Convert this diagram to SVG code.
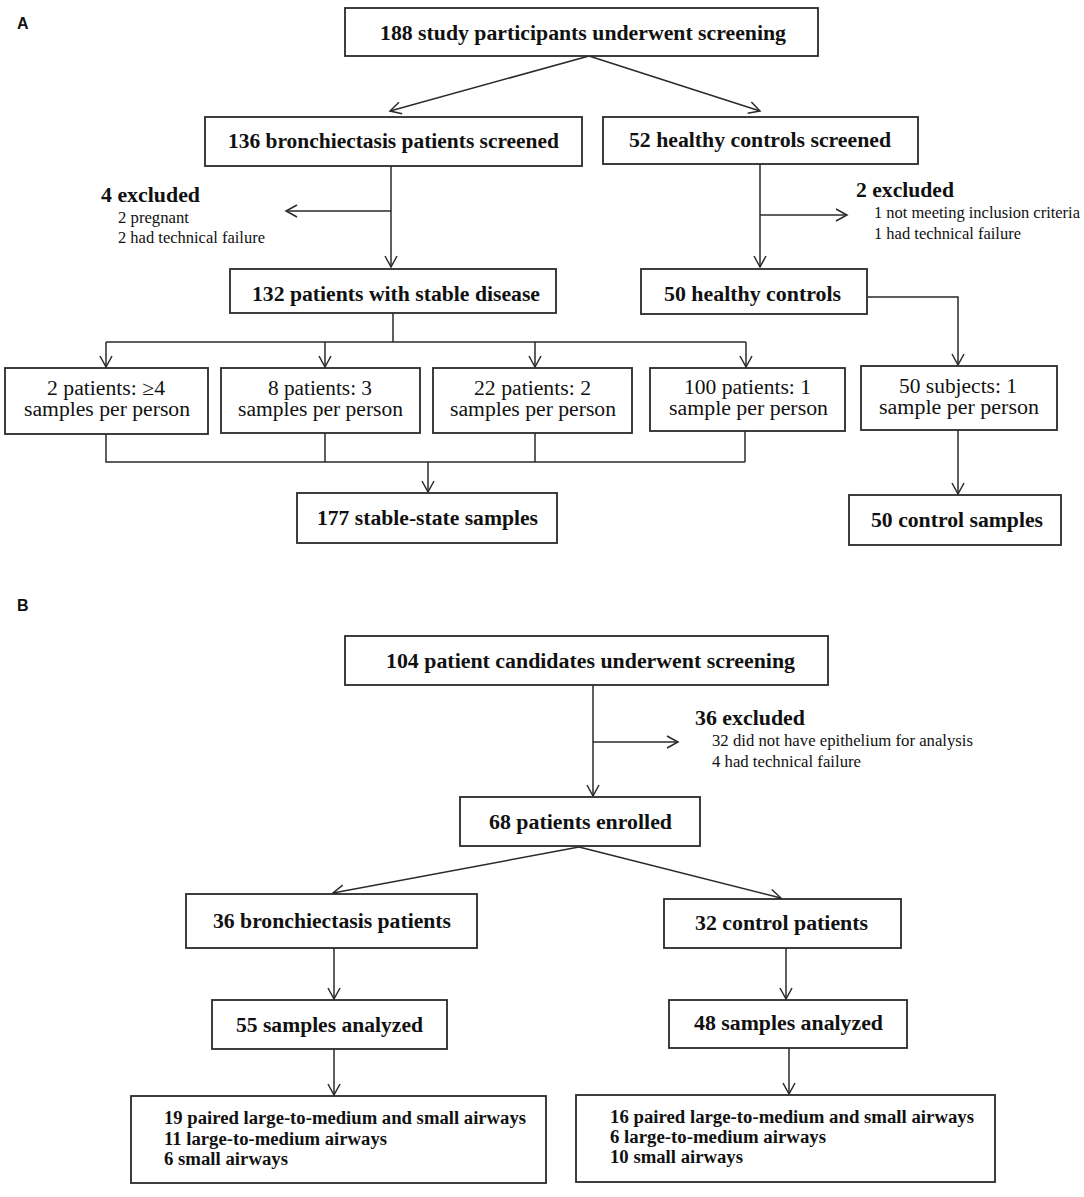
<svg xmlns="http://www.w3.org/2000/svg" width="1084" height="1197" viewBox="0 0 1084 1197">
<style>
.bx{fill:#fff;stroke:#2a2a2a;stroke-width:1.8}
.hd{font-family:"Liberation Serif","Times New Roman",serif;font-weight:bold;font-size:20px;fill:#111}
.rg{font-family:"Liberation Serif","Times New Roman",serif;font-size:20px;fill:#111}
.sm{font-family:"Liberation Serif","Times New Roman",serif;font-size:16.5px;fill:#111}
.it{font-family:"Liberation Serif","Times New Roman",serif;font-weight:bold;font-size:18px;fill:#111}
.lb{font-family:"Liberation Sans",Arial,sans-serif;font-weight:bold;font-size:16px;fill:#111}
.ln{fill:none;stroke:#2a2a2a;stroke-width:1.5}
</style>
<defs>
<marker id="ah" markerUnits="userSpaceOnUse" markerWidth="16" markerHeight="16" refX="12" refY="7" orient="auto">
<path d="M1,1 L12,7 L1,13" fill="none" stroke="#2a2a2a" stroke-width="1.5"/>
</marker>
</defs>
<rect width="1084" height="1197" fill="#fff"/>
<text class="lb" x="17" y="29">A</text>
<text class="lb" x="17" y="611">B</text>

<g id="connectors">
<line class="ln" x1="589" y1="56" x2="390" y2="111" marker-end="url(#ah)"/>
<line class="ln" x1="589" y1="56" x2="760" y2="111" marker-end="url(#ah)"/>
<line class="ln" x1="391" y1="166" x2="391" y2="267" marker-end="url(#ah)"/>
<line class="ln" x1="391" y1="211" x2="286" y2="211" marker-end="url(#ah)"/>
<line class="ln" x1="760" y1="164" x2="760" y2="267" marker-end="url(#ah)"/>
<line class="ln" x1="760" y1="215" x2="847" y2="215" marker-end="url(#ah)"/>
<polyline class="ln" points="393,313 393,342"/>
<line class="ln" x1="106" y1="342" x2="746" y2="342"/>
<line class="ln" x1="106" y1="342" x2="106" y2="367" marker-end="url(#ah)"/>
<line class="ln" x1="325" y1="342" x2="325" y2="367" marker-end="url(#ah)"/>
<line class="ln" x1="535" y1="342" x2="535" y2="367" marker-end="url(#ah)"/>
<line class="ln" x1="746" y1="342" x2="746" y2="367" marker-end="url(#ah)"/>
<polyline class="ln" points="106,434 106,462 745,462"/>
<line class="ln" x1="325" y1="433" x2="325" y2="462"/>
<line class="ln" x1="535" y1="433" x2="535" y2="462"/>
<line class="ln" x1="745" y1="431" x2="745" y2="462"/>
<line class="ln" x1="428" y1="462" x2="428" y2="492" marker-end="url(#ah)"/>
<polyline class="ln" points="868,297 958,297 958,365" marker-end="url(#ah)"/>
<line class="ln" x1="958" y1="430" x2="958" y2="494" marker-end="url(#ah)"/>

<line class="ln" x1="593" y1="685" x2="593" y2="796" marker-end="url(#ah)"/>
<line class="ln" x1="593" y1="742" x2="678" y2="742" marker-end="url(#ah)"/>
<line class="ln" x1="579" y1="847" x2="333" y2="893" marker-end="url(#ah)"/>
<line class="ln" x1="579" y1="847" x2="781" y2="898" marker-end="url(#ah)"/>
<line class="ln" x1="334" y1="948" x2="334" y2="999" marker-end="url(#ah)"/>
<line class="ln" x1="334" y1="1049" x2="334" y2="1095" marker-end="url(#ah)"/>
<line class="ln" x1="786" y1="948" x2="786" y2="999" marker-end="url(#ah)"/>
<line class="ln" x1="789" y1="1048" x2="789" y2="1094" marker-end="url(#ah)"/>
</g>

<g id="n188"><rect class="bx" x="345" y="8" width="473" height="48"/>
<text class="hd" x="380" y="40" textLength="406" lengthAdjust="spacingAndGlyphs">188 study participants underwent screening</text></g>
<g id="n136"><rect class="bx" x="205" y="117" width="377" height="49"/>
<text class="hd" x="228" y="148" textLength="331" lengthAdjust="spacingAndGlyphs">136 bronchiectasis patients screened</text></g>
<g id="n52"><rect class="bx" x="603" y="117" width="315" height="47"/>
<text class="hd" x="629" y="147" textLength="262" lengthAdjust="spacingAndGlyphs">52 healthy controls screened</text></g>
<g id="ex4">
<text class="hd" x="101" y="202" style="font-size:21px" textLength="99" lengthAdjust="spacingAndGlyphs">4 excluded</text>
<text class="sm" x="118" y="223" textLength="71" lengthAdjust="spacingAndGlyphs">2 pregnant</text>
<text class="sm" x="118" y="243" textLength="147" lengthAdjust="spacingAndGlyphs">2 had technical failure</text></g>
<g id="ex2">
<text class="hd" x="856" y="197" style="font-size:21px" textLength="98" lengthAdjust="spacingAndGlyphs">2 excluded</text>
<text class="sm" x="874" y="218" textLength="206" lengthAdjust="spacingAndGlyphs">1 not meeting inclusion criteria</text>
<text class="sm" x="874" y="239" textLength="147" lengthAdjust="spacingAndGlyphs">1 had technical failure</text></g>
<g id="n132"><rect class="bx" x="230" y="269" width="326" height="44"/>
<text class="hd" x="252" y="301" textLength="288" lengthAdjust="spacingAndGlyphs">132 patients with stable disease</text></g>
<g id="n50hc"><rect class="bx" x="641" y="269" width="226" height="45"/>
<text class="hd" x="664" y="301" textLength="177" lengthAdjust="spacingAndGlyphs">50 healthy controls</text></g>
<g id="b1"><rect class="bx" x="5" y="368" width="203" height="66"/>
<text class="rg" x="47" y="395" textLength="118" lengthAdjust="spacingAndGlyphs">2 patients: ≥4</text>
<text class="rg" x="24" y="416" textLength="166" lengthAdjust="spacingAndGlyphs">samples per person</text></g>
<g id="b2"><rect class="bx" x="221" y="368" width="199" height="65"/>
<text class="rg" x="268" y="395" textLength="104" lengthAdjust="spacingAndGlyphs">8 patients: 3</text>
<text class="rg" x="238" y="416" textLength="165" lengthAdjust="spacingAndGlyphs">samples per person</text></g>
<g id="b3"><rect class="bx" x="433" y="368" width="199" height="65"/>
<text class="rg" x="474" y="395" textLength="117" lengthAdjust="spacingAndGlyphs">22 patients: 2</text>
<text class="rg" x="450" y="416" textLength="166" lengthAdjust="spacingAndGlyphs">samples per person</text></g>
<g id="b4"><rect class="bx" x="650" y="368" width="195" height="63"/>
<text class="rg" x="684" y="394" textLength="127" lengthAdjust="spacingAndGlyphs">100 patients: 1</text>
<text class="rg" x="669" y="415" textLength="159" lengthAdjust="spacingAndGlyphs">sample per person</text></g>
<g id="b5"><rect class="bx" x="861" y="366" width="196" height="64"/>
<text class="rg" x="899" y="393" textLength="118" lengthAdjust="spacingAndGlyphs">50 subjects: 1</text>
<text class="rg" x="879" y="414" textLength="160" lengthAdjust="spacingAndGlyphs">sample per person</text></g>
<g id="n177"><rect class="bx" x="297" y="493" width="260" height="50"/>
<text class="hd" x="317" y="525" textLength="221" lengthAdjust="spacingAndGlyphs">177 stable-state samples</text></g>
<g id="n50cs"><rect class="bx" x="849" y="495" width="212" height="50"/>
<text class="hd" x="871" y="527" textLength="172" lengthAdjust="spacingAndGlyphs">50 control samples</text></g>

<g id="n104"><rect class="bx" x="345" y="636" width="483" height="49"/>
<text class="hd" x="386" y="668" textLength="409" lengthAdjust="spacingAndGlyphs">104 patient candidates underwent screening</text></g>
<g id="ex36">
<text class="hd" x="695" y="725" textLength="110" lengthAdjust="spacingAndGlyphs">36 excluded</text>
<text class="sm" x="712" y="746" textLength="261" lengthAdjust="spacingAndGlyphs">32 did not have epithelium for analysis</text>
<text class="sm" x="712" y="767" textLength="149" lengthAdjust="spacingAndGlyphs">4 had technical failure</text></g>
<g id="n68"><rect class="bx" x="460" y="797" width="240" height="49"/>
<text class="hd" x="489" y="829" textLength="183" lengthAdjust="spacingAndGlyphs">68 patients enrolled</text></g>
<g id="n36b"><rect class="bx" x="186" y="894" width="291" height="54"/>
<text class="hd" x="213" y="928" textLength="238" lengthAdjust="spacingAndGlyphs">36 bronchiectasis patients</text></g>
<g id="n55"><rect class="bx" x="212" y="1000" width="235" height="49"/>
<text class="hd" x="236" y="1032" textLength="187" lengthAdjust="spacingAndGlyphs">55 samples analyzed</text></g>
<g id="n19"><rect class="bx" x="131" y="1096" width="415" height="87"/>
<text class="it" x="164" y="1124" textLength="362" lengthAdjust="spacingAndGlyphs">19 paired large-to-medium and small airways</text>
<text class="it" x="164" y="1145" textLength="223" lengthAdjust="spacingAndGlyphs">11 large-to-medium airways</text>
<text class="it" x="164" y="1165" textLength="124" lengthAdjust="spacingAndGlyphs">6 small airways</text></g>
<g id="n32c"><rect class="bx" x="664" y="899" width="237" height="49"/>
<text class="hd" x="695" y="930" textLength="173" lengthAdjust="spacingAndGlyphs">32 control patients</text></g>
<g id="n48"><rect class="bx" x="669" y="1000" width="238" height="48"/>
<text class="hd" x="694" y="1030" textLength="189" lengthAdjust="spacingAndGlyphs">48 samples analyzed</text></g>
<g id="n16"><rect class="bx" x="576" y="1095" width="419" height="87"/>
<text class="it" x="610" y="1123" textLength="364" lengthAdjust="spacingAndGlyphs">16 paired large-to-medium and small airways</text>
<text class="it" x="610" y="1143" textLength="216" lengthAdjust="spacingAndGlyphs">6 large-to-medium airways</text>
<text class="it" x="610" y="1163" textLength="133" lengthAdjust="spacingAndGlyphs">10 small airways</text></g>
</svg>
